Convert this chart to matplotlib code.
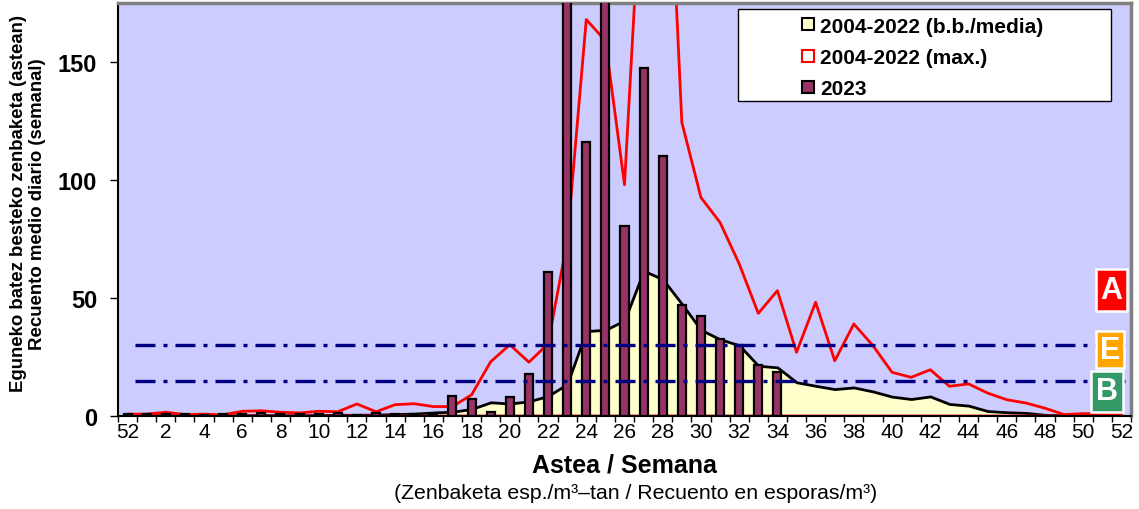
import numpy as np
import matplotlib
matplotlib.use("Agg")
import matplotlib.pyplot as plt
from matplotlib.lines import Line2D
from matplotlib.patches import Rectangle

plt.rcParams['font.family'] = ['Liberation Sans', 'DejaVu Sans']

# week labels: last week of previous year, then weeks 1..52
weeks = [52, 1, 2, 3, 4, 5, 6, 7, 8, 9, 10, 11, 12, 13, 14, 15, 16, 17, 18, 19,
         20, 21, 22, 23, 24, 25, 26, 27, 28, 29, 30, 31, 32, 33, 34, 35, 36, 37,
         38, 39, 40, 41, 42, 43, 44, 45, 46, 47, 48, 49, 50, 51, 52]

# 2004-2022 mean (b.b./media)
mean_0422 = [0.3, 0.3, 0.3, 0.3, 0.2, 0.2, 0.3, 0.4, 0.3, 0.3, 0.4, 0.5, 0.5,
             0.6, 0.8, 1.0, 1.5, 1.8, 3.0, 5.8, 5.3, 6.2, 8.5, 13.5, 36.0, 36.5,
             40.5, 61.5, 58.0, 47.5, 36.5, 32.5, 30.0, 21.3, 20.6, 14.3, 12.8,
             11.4, 12.1, 10.4, 8.2, 7.2, 8.3, 5.1, 4.4, 2.1, 1.6, 1.3, 0.5, 0.3,
             0.3, 0.3, 0.3]

# 2004-2022 max
max_0422 = [0.8, 0.8, 1.6, 0.6, 0.8, 0.5, 2.0, 2.2, 1.6, 1.3, 2.0, 1.8, 5.1,
            1.8, 4.8, 5.2, 4.0, 4.0, 9.0, 23.0, 30.2, 22.8, 30.6, 74.0, 168.0,
            159.0, 98.0, 245.0, 300.0, 124.4, 92.6, 82.0, 64.5, 43.5, 53.1, 27.0,
            48.2, 23.4, 39.0, 29.8, 18.5, 16.4, 19.6, 12.6, 13.6, 9.7, 6.9, 5.5,
            3.3, 0.6, 1.0, 1.0, 0.8]

# 2023 weekly values (up to week 34)
y2023 = [0.8, 0.7, 0.8, 0.8, 0.6, 0.7, 0.7, 1.3, 0.7, 0.8, 0.9, 1.3, 0.6, 1.1,
         0.8, 0.7, 0.9, 8.3, 7.2, 1.6, 8.2, 17.6, 61.0, 240.0, 116.0, 260.0,
         80.6, 147.5, 110.0, 47.2, 42.3, 32.6, 30.1, 21.4, 18.5]

thresholds = [15, 30]
legend_labels = ['2004-2022 (b.b./media)', '2004-2022 (max.)', '2023']

idx = np.arange(len(weeks))

fig = plt.figure(figsize=(11.39, 5.10), dpi=100)
ax = fig.add_axes([118 / 1139, 1 - 417 / 510, 1013 / 1139, 413 / 510])
ax.set_facecolor('#CCCCFF')

# mean area
ax.fill_between(idx, mean_0422, 0, facecolor='#FFFFCC', edgecolor='black',
                linewidth=2, zorder=1)
# max outline
ax.fill_between(idx, max_0422, 0, facecolor='none', edgecolor='#FF0000',
                linewidth=2, zorder=2)
# 2023 bars
ax.bar(idx[:len(y2023)], y2023, width=0.42, color='#993366', edgecolor='black',
       linewidth=1.6, zorder=3)
# threshold lines
ax.hlines(thresholds, 0.4, 52.2, colors='#000080', linewidth=2.4,
          linestyles=[(0, (6, 2.4, 1.2, 2.4))], zorder=4)

ax.set_xlim(-0.5, len(weeks) - 0.5)
ax.set_ylim(0, 175)

# ticks at category borders, labels at centres
ax.set_xticks(np.arange(len(weeks) + 1) - 0.5)
ax.set_xticklabels([])
ax.set_xticks(idx[::2], minor=True)
ax.set_xticklabels([str(w) for w in weeks[::2]], minor=True, fontsize=15)
ax.tick_params(axis='x', which='major', length=4, width=1, direction='out')
ax.tick_params(axis='x', which='minor', length=0, pad=4)
ax.set_yticks([0, 50, 100, 150])
ax.set_yticklabels(['0', '50', '100', '150'], fontsize=17, fontweight='bold')
ax.tick_params(axis='y', length=6, width=1, pad=9)

for s in ['left', 'bottom']:
    ax.spines[s].set_color('black')
    ax.spines[s].set_linewidth(1.5)
for s in ['top', 'right']:
    ax.spines[s].set_color('#808080')
    ax.spines[s].set_linewidth(2.5)

# legend
ax.add_patch(Rectangle((0.6123, 0.762), 0.368, 0.2235, transform=ax.transAxes,
                       facecolor='white', edgecolor='black', linewidth=1,
                       zorder=6))
handles = [
    Line2D([], [], marker='s', linestyle='none', markersize=8.5,
           markerfacecolor='#FFFFCC', markeredgecolor='black', markeredgewidth=1.5),
    Line2D([], [], marker='s', linestyle='none', markersize=8.5,
           markerfacecolor='white', markeredgecolor='#FF0000', markeredgewidth=1.5),
    Line2D([], [], marker='s', linestyle='none', markersize=8.5,
           markerfacecolor='#993366', markeredgecolor='black', markeredgewidth=1.5),
]
leg = ax.legend(handles, legend_labels, loc='upper left',
                bbox_to_anchor=(0.663, 0.992), frameon=False, borderpad=0,
                handlelength=0.8, handletextpad=0.15, labelspacing=0.58,
                prop={'size': 15, 'weight': 'bold'})
leg.set_zorder(7)

# level badges
def badge(x0, y0, w, h, color, letter):
    ax.add_patch(Rectangle((x0, y0), w, h, transform=ax.transAxes,
                           facecolor=color, edgecolor='white', linewidth=1.8,
                           zorder=8, clip_on=False))
    ax.text(x0 + w / 2, y0 + h / 2, letter, transform=ax.transAxes,
            ha='center', va='center', color='white', fontsize=22,
            fontweight='bold', zorder=9)

badge(0.965, 0.2535, 0.031, 0.1025, '#FF0000', 'A')
badge(0.965, 0.1155, 0.028, 0.091, '#FFA500', 'E')
badge(0.961, 0.0104, 0.031, 0.099, '#339966', 'B')

# axis titles
fig.text(28 / 1139, 0.6, 'Eguneko batez besteko zenbaketa (astean)\nRecuento medio diario (semanal)',
         rotation=90, ha='center', va='center', fontsize=13.4, fontweight='bold',
         linespacing=1.15)
fig.text(624.5 / 1139, 1 - 466 / 510, 'Astea / Semana', ha='center', va='center',
         fontsize=18, fontweight='bold')
fig.text(636 / 1139, 1 - 494 / 510,
         '(Zenbaketa esp./m\u00b3\u2013tan / Recuento en esporas/m\u00b3)',
         ha='center', va='center', fontsize=15.3)

fig.savefig('out.png', dpi=100)
